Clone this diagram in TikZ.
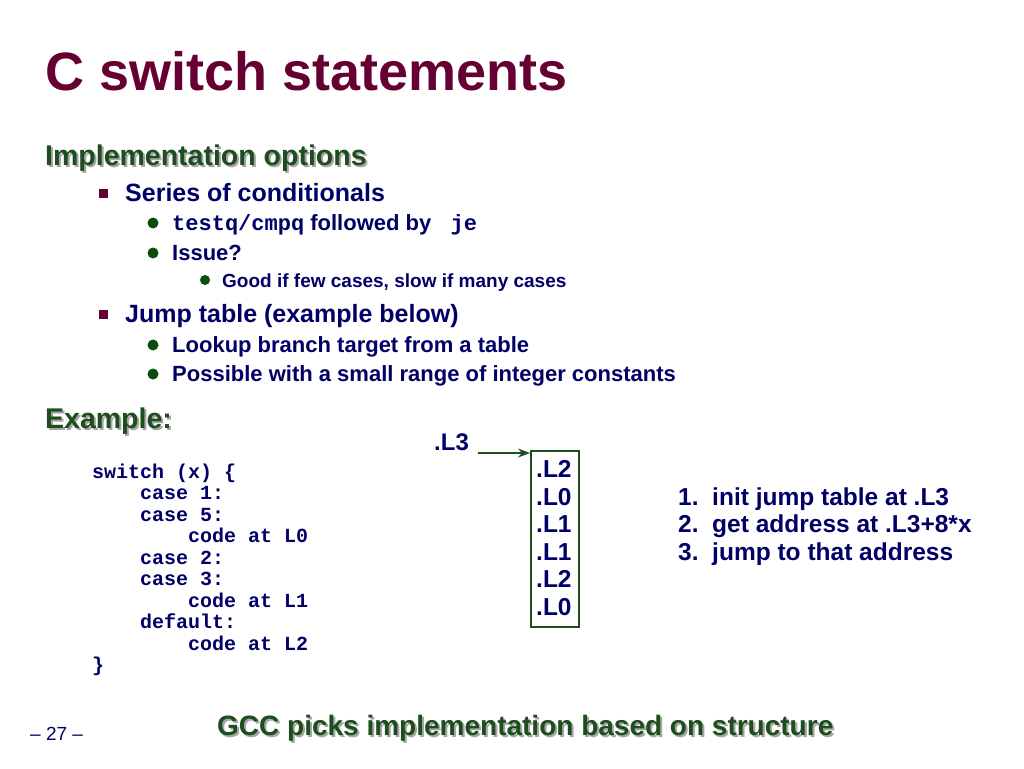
\documentclass[tikz,border=0pt]{standalone}
\usepackage{fontspec}
\setmainfont{Liberation Sans}
\setmonofont{Liberation Mono}
\usetikzlibrary{arrows.meta}
\definecolor{titlec}{HTML}{660033}
\definecolor{headc}{HTML}{1E4D1E}
\definecolor{navy}{HTML}{000066}
\definecolor{bulg}{HTML}{0B4D0B}
\begin{document}
\begin{tikzpicture}[x=1pt,y=-1pt,
  txt/.style={anchor=base west,inner sep=0pt,text=navy,font=\bfseries\fontsize{#1}{#1}\selectfont},
  head/.style={anchor=base west,inner sep=0pt,text=headc,font=\bfseries\fontsize{#1}{#1}\selectfont},
  shad/.style={anchor=base west,inner sep=0pt,text=black!35,font=\bfseries\fontsize{#1}{#1}\selectfont},
  code/.style={anchor=base west,inner sep=0pt,text=navy,font=\ttfamily\bfseries\fontsize{20}{20}\selectfont},
  sq/.style={fill=titlec,minimum size=9pt,inner sep=0pt},
  dot/.style={circle,fill=bulg,minimum size=11pt,inner sep=0pt},
  sdot/.style={circle,fill=bulg,minimum size=10pt,inner sep=0pt}]
\useasboundingbox[fill=white] (0,0) rectangle (1024,768);
\node[anchor=base west,inner sep=0pt,text=titlec,font=\bfseries\fontsize{54}{54}\selectfont] (title) at (45,90) {C switch statements};
\node[shad=28.5] (h1s) at (47,167) {Implementation options};
\node[head=28.5] (h1) at (45,165) {Implementation options};
\node[sq] (b1) at (103,193) {};
\node[txt=25] (t1) at (125,201) {Series of conditionals};
\node[dot] (b2) at (153,223) {};
\node[txt=22] (t2) at (172,230) {\ttfamily\bfseries testq/cmpq\rmfamily\bfseries\ followed by \ttfamily\bfseries\ je};
\node[dot] (b3) at (153,253) {};
\node[txt=22] (t3) at (172,260) {Issue?};
\node[sdot] (b4) at (205,280) {};
\node[txt=19] (t4) at (222,287) {Good if few cases, slow if many cases};
\node[sq] (b5) at (103,314) {};
\node[txt=25] (t5) at (125,322) {Jump table (example below)};
\node[dot] (b6) at (153,345) {};
\node[txt=22] (t6) at (172,352) {Lookup branch target from a table};
\node[dot] (b7) at (153,374) {};
\node[txt=22] (t7) at (172,381) {Possible with a small range of integer constants};
\node[shad=28.5] (h2s) at (47,430) {Example:};
\node[head=28.5] (h2) at (45,428) {Example:};
\node[code] (c1) at (92,478) {switch (x) \{};
\node[code] (c2) at (92,499.5) {\ \ \ \ case 1:};
\node[code] (c3) at (92,521) {\ \ \ \ case 5:};
\node[code] (c4) at (92,542.5) {\ \ \ \ \ \ \ \ code at L0};
\node[code] (c5) at (92,564) {\ \ \ \ case 2:};
\node[code] (c6) at (92,585.5) {\ \ \ \ case 3:};
\node[code] (c7) at (92,607) {\ \ \ \ \ \ \ \ code at L1};
\node[code] (c8) at (92,628.5) {\ \ \ \ default:};
\node[code] (c9) at (92,650) {\ \ \ \ \ \ \ \ code at L2};
\node[code] (c10) at (92,671.5) {\}};
\node[txt=24] (l3) at (434,450) {.L3};
\node[draw=headc,line width=1.5pt,minimum width=48pt,minimum height=176pt,inner sep=0pt,anchor=north west] (box) at (530,450) {};
\coordinate (as) at (478,453);
\draw[headc,line width=1.5pt,-{Stealth[length=12pt,width=9pt]}] (as) -- ([yshift=-3pt]box.north west);
\foreach \t/\y [count=\i] in {.L2/477,.L0/505,.L1/532,.L1/560,.L2/587,.L0/615}
  \node[txt=24.5] (e\i) at (536,\y) {\t};
\node[txt=24.5] (r1) at (678,505) {1.\ \ init jump table at .L3};
\node[txt=24.5] (r2) at (678,532) {2.\ \ get address at .L3+8*x};
\node[txt=24.5] (r3) at (678,560) {3.\ \ jump to that address};
\node[anchor=base west,inner sep=0pt,text=navy,font=\fontsize{19}{19}\selectfont] (pg) at (30,740) {– 27 –};
\node[shad=28] (gs) at (219,737) {GCC picks implementation based on structure};
\node[head=28] (g) at (217,735) {GCC picks implementation based on structure};
\end{tikzpicture}
\end{document}
